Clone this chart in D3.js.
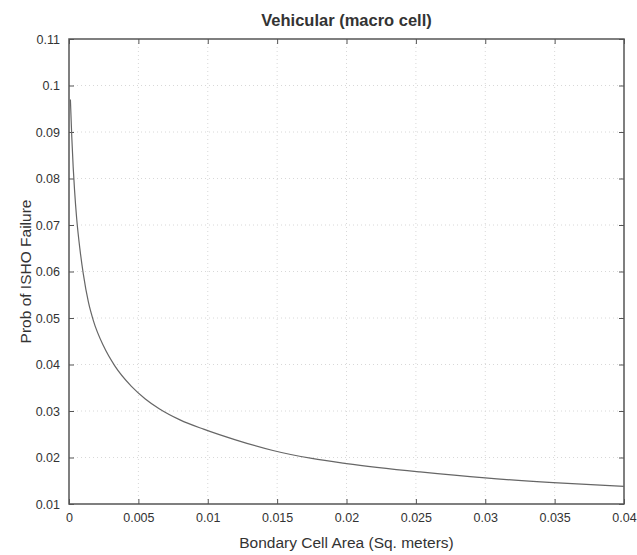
<!DOCTYPE html>
<html lang="en">
<head>
    <meta charset="utf-8">
    <style type="text/css">
        body { margin: 0; background: #fff; }
        text { font-family: "Liberation Sans", Arial, sans-serif; fill: #333; }
        .grid line { stroke: #d8d8d8; stroke-width: 1px; stroke-dasharray: 1,3; }
    </style>
</head>
<body>

<script src="https://d3js.org/d3.v7.min.js"></script>

<script type="text/javascript">
    // values
    var areaVals = [0.0001, 0.0002, 0.0003, 0.0004, 0.00055, 0.0008, 0.00103, 0.0014, 0.00175, 0.0025,
                    0.0033, 0.0045, 0.0055, 0.0065, 0.008, 0.0097, 0.012, 0.0147, 0.0175, 0.02,
                    0.0253, 0.03, 0.0349, 0.04];
    var probVals = [0.097, 0.089, 0.0825, 0.0775, 0.0715, 0.0645, 0.0595, 0.0534, 0.0495, 0.0439,
                    0.0397, 0.0353, 0.0326, 0.0305, 0.0281, 0.0261, 0.0238, 0.0215, 0.0198, 0.0187,
                    0.0169, 0.0156, 0.0146, 0.0138];
    var xTicks = [0, 0.005, 0.01, 0.015, 0.02, 0.025, 0.03, 0.035, 0.04];
    var yTicks = [0.01, 0.02, 0.03, 0.04, 0.05, 0.06, 0.07, 0.08, 0.09, 0.1, 0.11];

    var width = 637, height = 555;
    // plot box (note: "top" is reserved on window, so use pl/pr/pt/pb)
    var pl = 69, pr = 624, pt = 39, pb = 504;

    var svg = d3.select("body").append("svg")
        .attr("width", width)
        .attr("height", height);

    var x = d3.scaleLinear().domain([0, 0.04]).range([pl, pr]);
    var y = d3.scaleLinear().domain([0.01, 0.11]).range([pb, pt]);

    // grid (dotted, matlab style)
    var grid = svg.append("g").attr("class", "grid");
    grid.selectAll(".gx").data(xTicks.slice(1, -1)).enter().append("line")
        .attr("x1", function (d) {return x(d);}).attr("x2", function (d) {return x(d);})
        .attr("y1", pt).attr("y2", pb);
    grid.selectAll(".gy").data(yTicks.slice(1, -1)).enter().append("line")
        .attr("y1", function (d) {return y(d);}).attr("y2", function (d) {return y(d);})
        .attr("x1", pl).attr("x2", pr);

    // ticks inward on all four sides
    var fmt = function (d) { return String(+d.toFixed(3)); };
    function styleAxis(g) {
        g.select(".domain").remove();
        g.selectAll(".tick line").attr("stroke", "#555").attr("stroke-width", 1);
        g.selectAll(".tick text").style("font-size", "12.5px").attr("fill", "#333");
    }
    svg.append("g").attr("transform", "translate(0," + pb + ")")
        .call(d3.axisBottom(x).tickValues(xTicks).tickFormat(fmt).tickSizeInner(-5).tickPadding(9))
        .call(styleAxis);
    svg.append("g").attr("transform", "translate(0," + pt + ")")
        .call(d3.axisTop(x).tickValues(xTicks).tickFormat("").tickSizeInner(-5))
        .call(styleAxis);
    svg.append("g").attr("transform", "translate(" + pl + ",0)")
        .call(d3.axisLeft(y).tickValues(yTicks).tickFormat(fmt).tickSizeInner(-5).tickPadding(9))
        .call(styleAxis);
    svg.append("g").attr("transform", "translate(" + pr + ",0)")
        .call(d3.axisRight(y).tickValues(yTicks).tickFormat("").tickSizeInner(-5))
        .call(styleAxis);

    // box
    svg.append("rect")
        .attr("x", pl).attr("y", pt)
        .attr("width", pr - pl).attr("height", pb - pt)
        .attr("fill", "none").attr("stroke", "#555").attr("stroke-width", 1.5);

    // curve
    var pts = areaVals.map(function (d, i) { return [d, probVals[i]]; });
    var line = d3.line()
        .x(function (d) {return x(d[0]);})
        .y(function (d) {return y(d[1]);})
        .curve(d3.curveMonotoneX);
    svg.append("path")
        .datum(pts)
        .attr("d", line)
        .attr("fill", "none")
        .attr("stroke", "#666")
        .attr("stroke-width", 1.2);

    // labels
    svg.append("text")
        .text("Vehicular (macro cell)")
        .attr("x", (pl + pr) / 2).attr("y", 26)
        .attr("text-anchor", "middle")
        .style("font-size", "16.5px").style("font-weight", "bold");

    svg.append("text")
        .text("Bondary Cell Area (Sq. meters)")
        .attr("x", (pl + pr) / 2).attr("y", 548)
        .attr("text-anchor", "middle")
        .style("font-size", "15.5px");

    svg.append("text")
        .text("Prob of ISHO Failure")
        .attr("transform", "translate(31," + (pt + pb) / 2 + ") rotate(-90)")
        .attr("text-anchor", "middle")
        .style("font-size", "15.5px");
</script>

</body>
</html>
